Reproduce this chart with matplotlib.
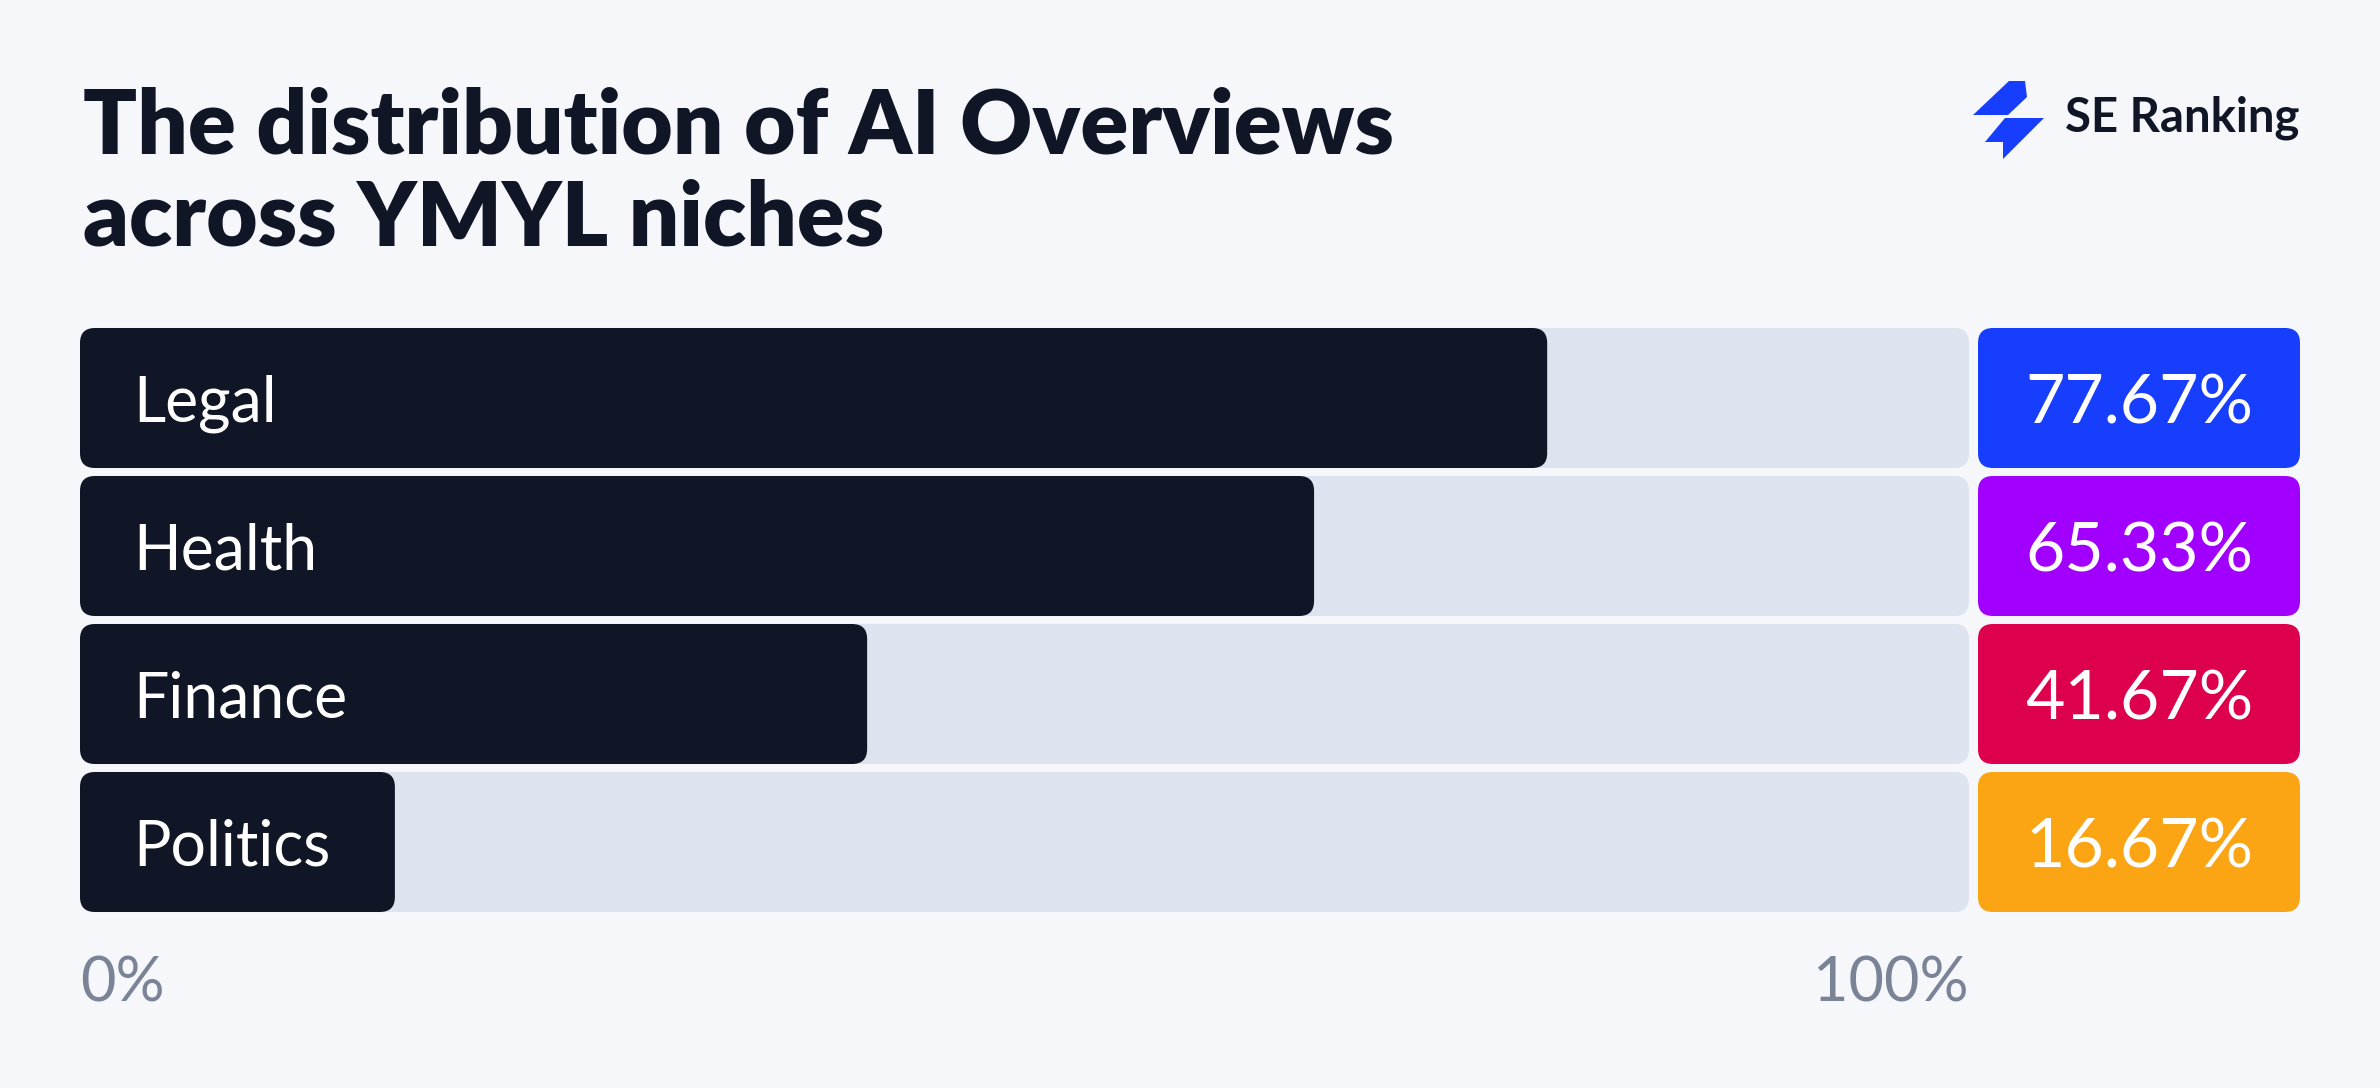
import matplotlib
matplotlib.use("Agg")
import matplotlib.pyplot as plt
from matplotlib.patches import FancyBboxPatch, Polygon

# data
categories = ["Legal", "Health", "Finance", "Politics"]
shares = [77.67, 65.33, 41.67, 16.67]
value_labels = ["77.67%", "65.33%", "41.67%", "16.67%"]
box_colors = ["#173EFC", "#A100FF", "#DC004D", "#FBA514"]
axis_labels = ["0%", "100%"]

BG = "#F5F7FB"
TRACK = "#DDE3EF"
DARK = "#111626"
GREY = "#7A8496"

W, H = 2380, 1088
fig = plt.figure(figsize=(W / 100, H / 100), dpi=100, facecolor=BG)
plt.rcParams["font.family"] = ["Lato", "DejaVu Sans"]


def fx(px):
    return px / W


def fy(py):
    return 1 - py / H


# layout in pixels
left, track_right = 80, 1969
box_left, box_right = 1978, 2300
top, pitch = 324, 148
n = len(categories)
bottom = top + n * pitch
bar_h = 0.946
radius_px = 15

ax = fig.add_axes([fx(left), fy(bottom), fx(track_right - left), (bottom - top) / H])
ax.set_xlim(0, 100)
ax.set_ylim(n - 0.5, -0.5)
ax.axis("off")

px_per_x = (track_right - left) / 100
asp = px_per_x / pitch
for i, (cat, v) in enumerate(zip(categories, shares)):
    track = FancyBboxPatch((0, i - bar_h / 2), 100, bar_h,
                           boxstyle="round,pad=0,rounding_size=%f" % (radius_px / px_per_x),
                           mutation_aspect=asp, fc=TRACK, ec="none")
    ax.add_patch(track)
    bar = FancyBboxPatch((0, i - bar_h / 2), v, bar_h,
                         boxstyle="round,pad=0,rounding_size=%f" % (radius_px / px_per_x),
                         mutation_aspect=asp, fc=DARK, ec="none")
    ax.add_patch(bar)
    ax.text(2.8, i, cat, color="white", fontsize=45, fontweight="normal",
            ha="left", va="center_baseline")

# axis end labels
ax.text(0, -0.105, axis_labels[0], transform=ax.get_xaxis_transform(), color=GREY,
        fontsize=44, fontweight="normal", ha="left", va="center_baseline")
ax.text(100, -0.105, axis_labels[1], transform=ax.get_xaxis_transform(), color=GREY,
        fontsize=44, fontweight="normal", ha="right", va="center_baseline")

# value boxes
bx = fig.add_axes([fx(box_left), fy(bottom), fx(box_right - box_left), (bottom - top) / H])
bx.set_xlim(0, 1)
bx.set_ylim(n - 0.5, -0.5)
bx.axis("off")
px_per_bx = box_right - box_left
for i, (lab, c) in enumerate(zip(value_labels, box_colors)):
    box = FancyBboxPatch((0, i - bar_h / 2), 1, bar_h,
                         boxstyle="round,pad=0,rounding_size=%f" % (radius_px / px_per_bx),
                         mutation_aspect=px_per_bx / pitch, fc=c, ec="none")
    bx.add_patch(box)
    bx.text(0.5, i, lab, color="white", fontsize=49, ha="center", va="center_baseline")

# title
fig.text(fx(83), fy(153), "The distribution of AI Overviews", fontsize=64,
         fontweight="heavy", color=DARK, va="baseline", ha="left")
fig.text(fx(83), fy(246), "across YMYL niches", fontsize=64,
         fontweight="heavy", color=DARK, va="baseline", ha="left")

# logo
upper = [(2009, 81), (2025, 81), (2027, 97), (2008, 115), (1973, 115)]
lower = [(2005, 118), (2044, 118), (2003, 159), (2003, 142), (1985, 142)]
for shape in (upper, lower):
    fig.add_artist(Polygon([(fx(x), fy(y)) for x, y in shape], closed=True,
                           fc="#173EFC", ec="none", transform=fig.transFigure))
fig.text(fx(2065), fy(131), "SE Ranking", fontsize=34, fontweight="bold",
         color=DARK, va="baseline", ha="left")

fig.savefig("out.png", dpi=100, facecolor=BG)
